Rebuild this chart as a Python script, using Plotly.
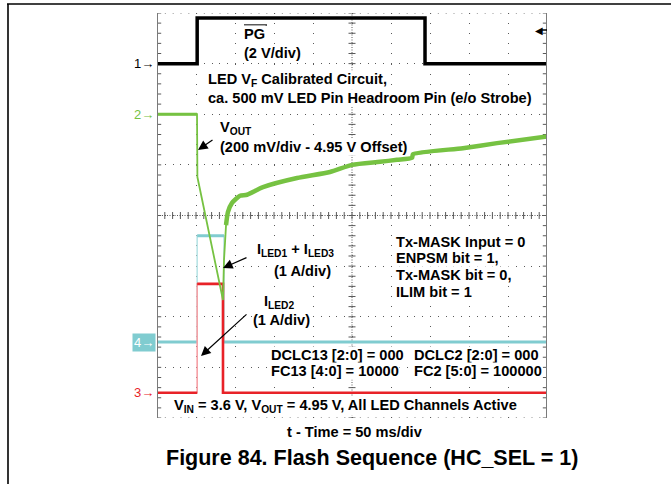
import numpy as np
import plotly.graph_objects as go

# ---------------- data (time in ms, vertical in screen divisions) ----------------
pg_t = [0, 51.5, 51.5, 343.6, 343.6, 500]
pg_v = [3.0, 3.0, 3.9, 3.9, 3.0, 3.0]

vout_t = [0, 51.3, 51.8, 84.6, 85.9, 88.5, 91.0, 96.2, 106.4, 115.4, 135.9, 179.5,
          221.8, 250.0, 285.9, 307.7, 326.9, 328.2, 392.3, 435.9, 500]
vout_v = [2.0, 2.0, 0.76, -1.67, -0.88, -0.19, 0.07, 0.25, 0.39, 0.41, 0.56, 0.74,
          0.86, 1.00, 1.06, 1.10, 1.14, 1.21, 1.33, 1.43, 1.56]

iled13_t = [0, 51.5, 51.5, 85.9, 85.9, 500]
iled13_v = [-2.5, -2.5, -0.40, -0.40, -2.5, -2.5]

iled2_t = [0, 51.5, 51.5, 84.6, 84.6, 500]
iled2_v = [-3.5, -3.5, -1.35, -1.35, -3.5, -3.5]

channel_labels = ["1", "2", "4", "3"]
channel_levels = [3.0, 2.0, -2.5, -3.5]

# ---------------- styling ----------------
FONT = "Liberation Sans, Arial, sans-serif"
GREEN = "rgb(118,194,66)"
CYAN = "rgb(128,204,208)"
CYAN_PALE = "rgb(185,228,230)"
RED = "rgb(232,34,40)"
RED_PALE = "rgb(246,160,165)"
GRID = "#5a5a5a"

L, R, T, B = 157, 547, 13, 418
W, H = 671, 484


def X(px):
    return (px - L) * 500.0 / (R - L)


def Y(py):
    return ((T + B) / 2.0 - py) / ((B - T) / 8.0)


def PX(px):
    return (px - L) / (R - L)


def PY(py):
    return (B - py) / (B - T)


fig = go.Figure()

# graticule ticks (center cross + edges), every 0.2 division
xs_minor = np.arange(0, 500.01, 10)
ys_minor = np.arange(-4, 4.001, 0.2)
tick_style = dict(color=GRID, size=5, line=dict(color=GRID, width=1))
fig.add_trace(go.Scatter(x=xs_minor, y=[0] * len(xs_minor), mode="markers",
                         marker=dict(symbol="line-ns", **tick_style), hoverinfo="skip"))
fig.add_trace(go.Scatter(x=[250] * len(ys_minor), y=ys_minor, mode="markers",
                         marker=dict(symbol="line-ew", **tick_style), hoverinfo="skip"))
edge_style = dict(color=GRID, size=6, line=dict(color=GRID, width=1))
fig.add_trace(go.Scatter(x=[0] * len(ys_minor) + [500] * len(ys_minor),
                         y=list(ys_minor) * 2, mode="markers",
                         marker=dict(symbol="line-ew", **edge_style), hoverinfo="skip"))

# PG (black)
fig.add_trace(go.Scatter(x=pg_t, y=pg_v, mode="lines",
                         line=dict(color="black", width=3.5), hoverinfo="skip"))


def split_levels(t, v):
    xs, ys = [], []
    for i in range(len(t) - 1):
        if v[i] == v[i + 1]:
            xs += [t[i], t[i + 1], None]
            ys += [v[i], v[i + 1], None]
    return xs, ys


# ILED1 + ILED3 (cyan)
fig.add_trace(go.Scatter(x=iled13_t, y=iled13_v, mode="lines",
                         line=dict(color=CYAN_PALE, width=1.6), hoverinfo="skip"))
cx, cy = split_levels(iled13_t, iled13_v)
fig.add_trace(go.Scatter(x=cx, y=cy, mode="lines",
                         line=dict(color=CYAN, width=3), hoverinfo="skip"))

# ILED2 (red)
fig.add_trace(go.Scatter(x=iled2_t, y=iled2_v, mode="lines",
                         line=dict(color=RED_PALE, width=1.6), hoverinfo="skip"))
rx = iled2_t[:2] + [None] + iled2_t[2:]
ry = iled2_v[:2] + [None] + iled2_v[2:]
fig.add_trace(go.Scatter(x=rx, y=ry, mode="lines",
                         line=dict(color=RED, width=2.6), hoverinfo="skip"))

# VOUT (green)
fig.add_trace(go.Scatter(x=vout_t, y=vout_v, mode="lines",
                         line=dict(color=GREEN, width=1.8), hoverinfo="skip"))
fig.add_trace(go.Scatter(x=vout_t[:2], y=vout_v[:2], mode="lines",
                         line=dict(color=GREEN, width=3), hoverinfo="skip"))
fig.add_trace(go.Scatter(x=vout_t[5:], y=vout_v[5:], mode="lines", line_shape="spline",
                         line=dict(color=GREEN, width=4.5, smoothing=0.6), hoverinfo="skip"))

shapes = [
    # center cross, dense dots
    dict(type="line", xref="x", yref="y", x0=0, x1=500, y0=0, y1=0,
         line=dict(color=GRID, width=1, dash="1px,1.5px"), layer="below"),
    dict(type="line", xref="x", yref="y", x0=250, x1=250, y0=-4, y1=4,
         line=dict(color=GRID, width=1, dash="1px,1.5px"), layer="below"),
    # left / right borders
    dict(type="line", xref="x", yref="y", x0=0, x1=0, y0=-4, y1=4,
         line=dict(color="#7a7a7a", width=2)),
    dict(type="line", xref="x", yref="y", x0=500, x1=500, y0=-4, y1=4,
         line=dict(color="#7a7a7a", width=2)),
    # top / bottom dotted edges
    dict(type="line", xref="x", yref="y", x0=0, x1=500, y0=4, y1=4,
         line=dict(color=GRID, width=1.2, dash="1.2px,6.6px"), layer="below"),
    dict(type="line", xref="x", yref="y", x0=0, x1=500, y0=-4, y1=-4,
         line=dict(color=GRID, width=1.2, dash="1.2px,6.6px"), layer="below"),
    # outer page frame: top and left edges
    dict(type="line", xref="paper", yref="paper", x0=PX(7), x1=PX(671), y0=PY(4), y1=PY(4),
         line=dict(color="black", width=1.6), layer="above"),
    dict(type="line", xref="paper", yref="paper", x0=PX(8), x1=PX(8), y0=PY(4), y1=PY(490),
         line=dict(color="black", width=1.6), layer="above"),
    # overline on PG
    dict(type="line", xref="paper", yref="paper", x0=PX(244), x1=PX(267), y0=PY(25), y1=PY(25),
         line=dict(color="black", width=1.3)),
]

ann = []
txt = dict(family=FONT, size=14.6, color="black")


def label(text, px, py, xanchor="left", size=None, bg="white"):
    f = dict(txt)
    if size:
        f["size"] = size
    ann.append(dict(x=X(px), y=Y(py), xref="x", yref="y", text="<b>" + text + "</b>",
                    showarrow=False, xanchor=xanchor, yanchor="middle", font=f,
                    bgcolor=bg, borderpad=0))


label("PG", 243, 34)
label("(2 V/div)", 243, 53)
label("LED V<sub>F</sub> Calibrated Circuit,", 207, 80)
label("ca. 500 mV LED Pin Headroom Pin (e/o Strobe)", 207, 98)
label("V<sub>OUT</sub>", 219, 128)
label("(200 mV/div - 4.95 V Offset)", 219, 147)
label("I<sub>LED1</sub> + I<sub>LED3</sub>", 256, 250)
label("(1 A/div)", 302, 271, xanchor="center")
label("I<sub>LED2</sub>", 263, 302)
label("(1 A/div)", 281, 320, xanchor="center")
label("Tx-MASK Input = 0", 395, 242)
label("ENPSM bit = 1,", 395, 258)
label("Tx-MASK bit = 0,", 395, 275)
label("ILIM bit = 1", 395, 292)
label("DCLC13 [2:0] = 000", 270, 355)
label("DCLC2 [2:0] = 000", 413, 355)
label("FC13 [4:0] = 10000", 270, 371)
label("FC2 [5:0] = 100000", 413, 371)
label("V<sub>IN</sub> = 3.6 V, V<sub>OUT</sub> = 4.95 V, All LED Channels Active", 173, 406)

# outside texts (paper coords)
ann.append(dict(x=PX(355), y=PY(432), xref="paper", yref="paper",
                text="<b>t - Time = 50 ms/div</b>", showarrow=False,
                xanchor="center", yanchor="middle", font=txt))
ann.append(dict(x=PX(372), y=PY(458), xref="paper", yref="paper",
                text="<b>Figure 84. Flash Sequence (HC_SEL = 1)</b>", showarrow=False,
                xanchor="center", yanchor="middle", font=dict(family=FONT, size=21.5, color="black")))

# arrows
for hx, hy, tx, ty in [(198, 150, 214, 139), (223, 268, 248, 257), (201, 356, 248, 313)]:
    ann.append(dict(x=X(hx), y=Y(hy), xref="x", yref="y", ax=tx - hx, ay=ty - hy,
                    text="", showarrow=True, arrowhead=2, arrowsize=1.6, arrowwidth=1.2,
                    arrowcolor="black"))

# channel markers
ch_colors = ["black", GREEN, "white", RED]
for lab, lev, col in zip(channel_labels, channel_levels, ch_colors):
    a = dict(x=0, y=lev, xref="paper", yref="y", text=lab + "→", showarrow=False,
             xanchor="right", yanchor="middle", xshift=-1,
             font=dict(family=FONT, size=13, color=col), borderpad=1)
    if lab == "4":
        a["bgcolor"] = CYAN
    ann.append(a)

# trigger level arrow at right edge
ann.append(dict(x=1, y=Y(30), xref="paper", yref="y", text="<b>◀</b>", showarrow=False,
                xanchor="right", yanchor="middle", xshift=-2,
                font=dict(family="DejaVu Sans", size=10, color="black")))
shapes.append(dict(type="line", xref="x", yref="y", x0=X(541), x1=X(547), y0=Y(30), y1=Y(30),
                   line=dict(color="black", width=1.5)))

fig.update_layout(
    width=W, height=H, autosize=False,
    margin=dict(l=L, r=W - R, t=T, b=H - B, pad=0, autoexpand=False),
    plot_bgcolor="white", paper_bgcolor="white",
    showlegend=False, shapes=shapes, annotations=ann,
    xaxis=dict(range=[0, 500], dtick=50, tick0=0, showgrid=True, gridcolor=GRID,
               gridwidth=1, griddash="1px,9.1px", showticklabels=False, ticks="",
               zeroline=False, showline=False, fixedrange=True),
    yaxis=dict(range=[-4, 4], dtick=1, tick0=0, showgrid=True, gridcolor=GRID,
               gridwidth=1, griddash="1px,6.8px", showticklabels=False, ticks="",
               zeroline=False, showline=False, fixedrange=True),
)

fig.write_html("out.html", config={"displayModeBar": False},
               post_script="document.body.style.margin='0';")
